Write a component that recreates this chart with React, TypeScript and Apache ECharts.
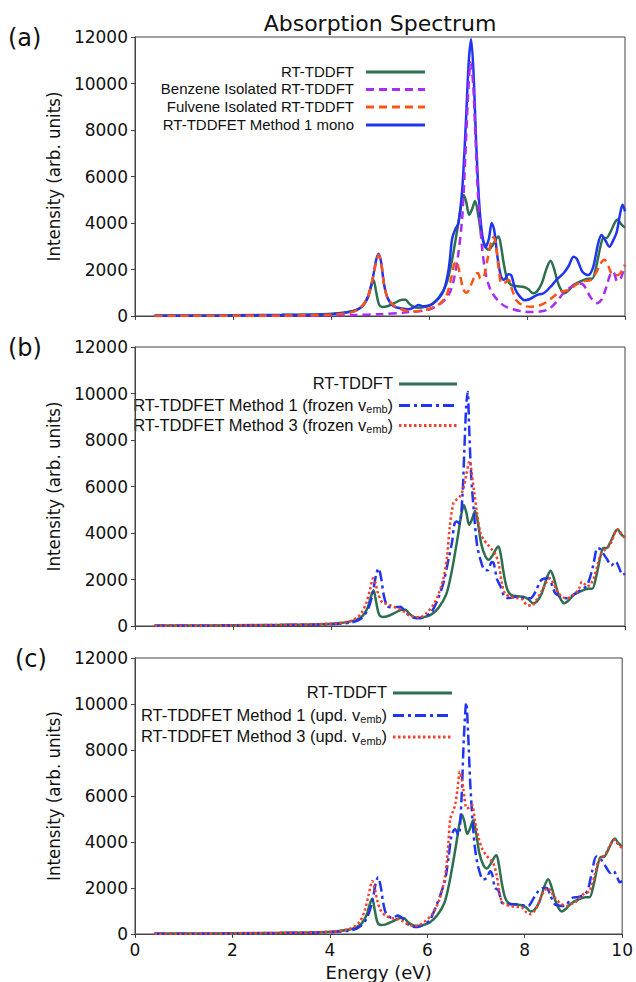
import React, { useEffect, useRef } from "react";
import * as echarts from "echarts";

// ---- data: [energy (eV), intensity (arb. units)] ----
const rtTddft: number[][] = [
  [0.4, 20], [1.0, 20], [2.0, 30], [3.0, 50], [3.8, 80], [4.2, 130], [4.5, 250], [4.65, 450], [4.75, 800],
  [4.82, 1300], [4.87, 1540], [4.92, 1050], [4.98, 500], [5.05, 390], [5.15, 420], [5.3, 560], [5.45, 700],
  [5.52, 700], [5.6, 520], [5.7, 380], [5.78, 350], [5.9, 380], [6.05, 500], [6.2, 800], [6.35, 1350],
  [6.45, 2200], [6.52, 3000], [6.6, 4000], [6.66, 4800], [6.71, 5200], [6.76, 4900], [6.82, 4350], [6.88, 4600],
  [6.94, 4950], [7.0, 4400], [7.07, 3500], [7.15, 3000], [7.22, 2850], [7.3, 3050], [7.38, 3350], [7.42, 3420],
  [7.47, 3000], [7.53, 2200], [7.6, 1560], [7.68, 1330], [7.8, 1280], [7.94, 1250], [8.03, 1150], [8.12, 980],
  [8.2, 1050], [8.3, 1400], [8.4, 2050], [8.48, 2380], [8.55, 2050], [8.62, 1500], [8.7, 1100], [8.76, 980],
  [8.85, 1100], [8.95, 1330], [9.1, 1500], [9.25, 1600], [9.33, 1600], [9.42, 2200], [9.5, 3000], [9.56, 3350],
  [9.62, 3350], [9.7, 3600], [9.8, 4050], [9.85, 4150], [9.92, 3950], [10.0, 3800],
];

const benzeneIsolated: number[][] = [
  [0.4, 5], [3, 10], [4, 20], [4.5, 40], [5, 80], [5.5, 150], [6, 280], [6.25, 560], [6.4, 900], [6.5, 1500],
  [6.6, 2700], [6.68, 4300], [6.74, 6800], [6.8, 9600], [6.85, 10900], [6.9, 10000], [6.95, 7600], [7.0, 5200],
  [7.08, 3000], [7.15, 1900], [7.25, 1150], [7.4, 680], [7.55, 420], [7.7, 300], [7.9, 200], [8.1, 170],
  [8.3, 200], [8.45, 300], [8.6, 600], [8.75, 1000], [8.9, 1250], [9.05, 1400], [9.15, 1350], [9.3, 800],
  [9.43, 550], [9.52, 700], [9.62, 1250], [9.7, 1800], [9.76, 1900], [9.84, 1500], [9.92, 1650], [10.0, 2200],
];

const fulveneIsolated: number[][] = [
  [0.4, 5], [3, 15], [4, 60], [4.4, 150], [4.6, 350], [4.75, 800], [4.85, 1600], [4.92, 2300], [4.97, 2620],
  [5.02, 2350], [5.08, 1400], [5.15, 800], [5.3, 420], [5.5, 250], [5.7, 190], [5.9, 250], [6.05, 350],
  [6.2, 500], [6.35, 850], [6.45, 1600], [6.51, 2200], [6.56, 2350], [6.62, 1900], [6.7, 1150], [6.77, 1000],
  [6.85, 1300], [6.95, 1800], [7.0, 1850], [7.05, 1600], [7.12, 1700], [7.2, 2500], [7.28, 3300], [7.32, 3400],
  [7.37, 3000], [7.43, 1900], [7.48, 1400], [7.56, 1450], [7.63, 1550], [7.7, 1100], [7.8, 620], [7.95, 430],
  [8.1, 400], [8.25, 450], [8.4, 600], [8.55, 850], [8.7, 1050], [8.86, 1120], [9.0, 1350], [9.15, 1500],
  [9.3, 1550], [9.42, 1900], [9.5, 2250], [9.58, 2420], [9.65, 2200], [9.72, 1850], [9.8, 1750], [9.88, 1780],
  [9.95, 2000], [10.0, 2200],
];

const method1Mono: number[][] = [
  [0.4, 10], [2, 20], [3, 40], [4, 80], [4.4, 180], [4.6, 350], [4.75, 800], [4.85, 1600], [4.92, 2400],
  [4.97, 2680], [5.02, 2350], [5.08, 1400], [5.15, 800], [5.28, 420], [5.45, 320], [5.58, 290], [5.7, 380],
  [5.79, 470], [5.88, 420], [6.0, 440], [6.15, 650], [6.3, 1100], [6.4, 2000], [6.47, 3300], [6.53, 3700],
  [6.6, 4000], [6.68, 5500], [6.75, 8200], [6.81, 10900], [6.86, 11900], [6.91, 10400], [6.96, 7600],
  [7.02, 5000], [7.08, 3600], [7.15, 2950], [7.22, 3300], [7.28, 4000], [7.33, 3700], [7.4, 2500], [7.47, 1700],
  [7.53, 1550], [7.62, 1800], [7.68, 1750], [7.76, 1150], [7.86, 820], [7.95, 680], [8.05, 720], [8.2, 900],
  [8.34, 980], [8.5, 1300], [8.6, 1550], [8.75, 1850], [8.85, 2150], [8.95, 2550], [9.02, 2450], [9.13, 1900],
  [9.25, 1760], [9.35, 2100], [9.45, 3100], [9.52, 3480], [9.6, 3250], [9.68, 2980], [9.76, 3250], [9.83, 3600],
  [9.9, 4400], [9.95, 4780], [10.0, 4500],
];

const method1Frozen: number[][] = [
  [0.4, 10], [2, 20], [3, 40], [4, 80], [4.4, 150], [4.6, 300], [4.75, 700], [4.85, 1400], [4.92, 2200],
  [4.97, 2480], [5.02, 2100], [5.08, 1300], [5.15, 850], [5.25, 800], [5.35, 820], [5.42, 830], [5.5, 650],
  [5.6, 450], [5.7, 350], [5.8, 330], [5.95, 450], [6.05, 600], [6.17, 1100], [6.3, 1900], [6.4, 2900],
  [6.47, 3600], [6.52, 4400], [6.57, 4500], [6.62, 4400], [6.68, 5500], [6.72, 7500], [6.76, 9500],
  [6.79, 10080], [6.82, 8500], [6.86, 6500], [6.92, 4800], [6.98, 3500], [7.05, 2850], [7.12, 2450],
  [7.2, 2400], [7.28, 2750], [7.32, 2700], [7.39, 2000], [7.46, 1700], [7.53, 1300], [7.6, 1200], [7.7, 1230],
  [7.8, 1260], [7.95, 1200], [8.07, 1190], [8.18, 1500], [8.28, 1950], [8.4, 2050], [8.45, 2050], [8.52, 1700],
  [8.58, 1400], [8.7, 1250], [8.82, 1190], [8.95, 1350], [9.1, 1550], [9.2, 1700], [9.27, 1980], [9.35, 2600],
  [9.44, 3350], [9.5, 3300], [9.56, 3100], [9.64, 2850], [9.72, 2600], [9.81, 2770], [9.88, 2500], [9.95, 2200],
  [10.0, 2250],
];

const method3Frozen: number[][] = [
  [0.4, 10], [2, 25], [3, 50], [4, 100], [4.4, 220], [4.6, 500], [4.72, 1000], [4.8, 1600], [4.86, 2050],
  [4.9, 1900], [4.96, 1400], [5.05, 1000], [5.14, 950], [5.25, 850], [5.38, 750], [5.5, 600], [5.6, 450],
  [5.7, 400], [5.82, 380], [5.95, 550], [6.1, 950], [6.2, 1400], [6.3, 2100], [6.37, 3000], [6.42, 4200],
  [6.5, 5300], [6.57, 5450], [6.64, 5600], [6.7, 5900], [6.76, 6500], [6.83, 7100], [6.87, 6600], [6.92, 5800],
  [6.98, 4850], [7.05, 4000], [7.12, 3700], [7.2, 3500], [7.28, 3300], [7.35, 3100], [7.42, 2700], [7.49, 1800],
  [7.55, 1400], [7.66, 1260], [7.8, 1200], [7.9, 1150], [8.0, 900], [8.1, 880], [8.2, 1150], [8.3, 1500],
  [8.4, 1900], [8.46, 2050], [8.55, 1800], [8.62, 1480], [8.72, 1250], [8.82, 1190], [8.92, 1300], [8.99, 1400],
  [9.07, 1650], [9.12, 1900], [9.18, 1800], [9.23, 1700], [9.3, 1800], [9.37, 2100], [9.45, 2700], [9.51, 3100],
  [9.6, 3300], [9.66, 3400], [9.74, 3700], [9.81, 4100], [9.86, 4150], [9.93, 3950], [10.0, 3800],
];

const method1Upd: number[][] = [
  [0.4, 10], [2, 20], [3, 40], [4, 80], [4.4, 150], [4.6, 300], [4.75, 650], [4.87, 1400], [4.94, 2200],
  [4.99, 2470], [5.04, 2100], [5.1, 1300], [5.16, 860], [5.28, 700], [5.4, 800], [5.48, 700], [5.58, 450],
  [5.7, 320], [5.8, 300], [5.95, 450], [6.05, 600], [6.17, 1150], [6.3, 1900], [6.37, 2400], [6.44, 3400],
  [6.5, 4300], [6.57, 4550], [6.64, 4300], [6.7, 5800], [6.75, 8500], [6.8, 10060], [6.84, 8600], [6.88, 6600],
  [6.93, 4900], [6.98, 3700], [7.05, 2870], [7.15, 2370], [7.22, 2440], [7.29, 2730], [7.33, 2600], [7.39, 2010],
  [7.46, 1900], [7.53, 1365], [7.6, 1290], [7.72, 1290], [7.84, 1290], [7.95, 1250], [8.07, 1220], [8.18, 1550],
  [8.28, 1860], [8.38, 2000], [8.45, 2000], [8.53, 1650], [8.62, 1290], [8.72, 1230], [8.82, 1220], [8.92, 1450],
  [8.99, 1580], [9.08, 1600], [9.16, 1650], [9.24, 1750], [9.3, 1940], [9.38, 2700], [9.47, 3375], [9.57, 3230],
  [9.68, 2870], [9.76, 2650], [9.82, 2750], [9.9, 2450], [9.95, 2250], [10.0, 2300],
];

const method3Upd: number[][] = [
  [0.4, 10], [2, 25], [3, 50], [4, 100], [4.4, 220], [4.6, 500], [4.72, 1050], [4.8, 1750], [4.87, 2300],
  [4.92, 2000], [4.98, 1400], [5.05, 1000], [5.14, 800], [5.25, 700], [5.38, 650], [5.5, 550], [5.6, 430],
  [5.69, 360], [5.82, 380], [5.95, 550], [6.1, 860], [6.25, 1500], [6.37, 2590], [6.43, 3900], [6.47, 5000],
  [6.52, 5300], [6.57, 5600], [6.62, 6300], [6.67, 7050], [6.71, 6700], [6.74, 6300], [6.81, 5460], [6.87, 5500],
  [6.92, 5600], [6.98, 4885], [7.05, 4200], [7.12, 3735], [7.2, 3450], [7.29, 3230], [7.35, 3100], [7.42, 2600],
  [7.49, 1700], [7.55, 1350], [7.7, 1220], [7.85, 1180], [7.94, 1150], [8.03, 950], [8.11, 862], [8.2, 1000],
  [8.28, 1300], [8.38, 1800], [8.48, 2000], [8.55, 1800], [8.62, 1580], [8.72, 1350], [8.86, 1220], [8.95, 1300],
  [9.03, 1365], [9.12, 1550], [9.2, 1725], [9.27, 1800], [9.33, 1860], [9.44, 2590], [9.5, 3100], [9.57, 3300],
  [9.66, 3500], [9.74, 3800], [9.84, 4095], [9.92, 3900], [10.0, 3735],
];

const xTickValues = [0, 2, 4, 6, 8, 10];
const yTickValues = [0, 2000, 4000, 6000, 8000, 10000, 12000];
const panelLabels = ["(a)", "(b)", "(c)"];

// ---- styling ----
const GREEN = "#2e6f50";
const BLUE = "#1f35f2";
const PURPLE = "#a82cf2";
const ORANGE = "#ff5216";
const RED = "#f5402e";
const AXIS = "#444";
const FONT = "'DejaVu Sans', sans-serif";
const LEG_FONT = "'Liberation Sans', Arial, sans-serif";
const NARROW = "'DejaVu Sans Condensed', 'Liberation Sans Narrow', 'DejaVu Sans', sans-serif";

const GRID_LEFT = 135;
const GRID_W = 490;
const GRID_H = 279;
const GRID_TOPS = [37, 347, 658];

const DASH = [8, 5];
const DASHDOT = [11, 4, 3, 4];
const DOT = [2.5, 2.5];

function legendBlock(
  rows: { label: string; sub?: string; tail?: string; color: string; dash?: number[]; y: number }[],
  textRight: number,
  lineX1: number,
  lineX2: number,
  fontSize: number
) {
  const els: any[] = [];
  rows.forEach((r) => {
    const text = r.sub ? `{n|${r.label}}{s|${r.sub}}{n|${r.tail || ""}}` : `{n|${r.label}}`;
    els.push({
      type: "text",
      x: textRight,
      y: r.y - 1,
      style: {
        text,
        align: "right",
        verticalAlign: "middle",
        fill: "#111",
        rich: {
          n: { fontSize, fontFamily: LEG_FONT, fill: "#111", lineHeight: fontSize + 4, verticalAlign: "middle" },
          s: { fontSize: fontSize * 0.66, fontFamily: LEG_FONT, fill: "#111", lineHeight: fontSize * 0.66, verticalAlign: "bottom" },
        },
      },
    });
    els.push({
      type: "line",
      shape: { x1: lineX1, y1: r.y, x2: lineX2, y2: r.y },
      style: { stroke: r.color, lineWidth: 3, lineDash: r.dash || null },
    });
  });
  return els;
}

export default function App() {
  const ref = useRef<HTMLDivElement>(null);

  useEffect(() => {
    if (!ref.current) return;
    const chart = echarts.init(ref.current, null, { renderer: "svg" });

    const grids = GRID_TOPS.map((top) => ({
      left: GRID_LEFT,
      top,
      width: GRID_W,
      height: GRID_H,
      show: true,
      borderColor: AXIS,
      borderWidth: 1,
      containLabel: false,
    }));

    const xAxes = GRID_TOPS.map((_, i) => ({
      type: "value",
      gridIndex: i,
      min: xTickValues[0],
      max: xTickValues[xTickValues.length - 1],
      interval: 2,
      axisLine: { show: true, onZero: false, lineStyle: { color: AXIS, width: 1 } },
      axisTick: { show: true, length: 4, lineStyle: { color: AXIS } },
      splitLine: { show: false },
      axisLabel: { show: i === 2, fontSize: 17, fontFamily: FONT, color: "#111", margin: 7, formatter: (v: number) => String(v) },
      name: i === 2 ? "Energy (eV)" : "",
      nameLocation: "middle",
      nameGap: 29,
      nameTextStyle: { fontSize: 18, fontFamily: FONT, color: "#111" },
    }));

    const yAxes = GRID_TOPS.map((_, i) => ({
      type: "value",
      gridIndex: i,
      min: yTickValues[0],
      max: yTickValues[yTickValues.length - 1],
      interval: 2000,
      axisLine: { show: true, lineStyle: { color: AXIS, width: 1 } },
      axisTick: { show: true, length: 4, lineStyle: { color: AXIS } },
      splitLine: { show: false },
      axisLabel: { fontSize: 17, fontFamily: FONT, color: "#111", margin: 7, formatter: (v: number) => String(v) },
      name: "Intensity (arb. units)",
      nameLocation: "middle",
      nameRotate: 90,
      nameGap: 66,
      nameTextStyle: { fontSize: 18.5, fontFamily: NARROW, color: "#111" },
    }));

    const line = (name: string, data: number[][], idx: number, color: string, type: any, z: number) => ({
      name,
      type: "line",
      xAxisIndex: idx,
      yAxisIndex: idx,
      data,
      showSymbol: false,
      symbol: "none",
      smooth: 0.3,
      z,
      lineStyle: { color, width: 2.5, type },
      itemStyle: { color },
    });

    const series = [
      line("RT-TDDFT", rtTddft, 0, GREEN, "solid", 2),
      line("RT-TDDFET Method 1 mono", method1Mono, 0, BLUE, "solid", 3),
      line("Benzene Isolated RT-TDDFT", benzeneIsolated, 0, PURPLE, DASH, 4),
      line("Fulvene Isolated RT-TDDFT", fulveneIsolated, 0, ORANGE, DASH, 5),
      line("RT-TDDFT ", rtTddft, 1, GREEN, "solid", 2),
      line("RT-TDDFET Method 1 (frozen v_emb)", method1Frozen, 1, BLUE, DASHDOT, 3),
      line("RT-TDDFET Method 3 (frozen v_emb)", method3Frozen, 1, RED, DOT, 4),
      line("RT-TDDFT  ", rtTddft, 2, GREEN, "solid", 2),
      line("RT-TDDFET Method 1 (upd. v_emb)", method1Upd, 2, BLUE, DASHDOT, 3),
      line("RT-TDDFET Method 3 (upd. v_emb)", method3Upd, 2, RED, DOT, 4),
    ];

    const graphic: any[] = [
      {
        type: "text",
        x: 380,
        y: 23,
        style: { text: "Absorption Spectrum", fontSize: 22, fontFamily: FONT, fill: "#111", align: "center", verticalAlign: "middle" },
      },
      ...panelLabels.map((t, i) => ({
        type: "text",
        x: i === 2 ? 15 : 8,
        y: GRID_TOPS[i] + 1,
        style: { text: t, fontSize: 24, fontFamily: FONT, fill: "#111", align: "left", verticalAlign: "middle" },
      })),
      ...legendBlock(
        [
          { label: "RT-TDDFT", color: GREEN, y: 72 },
          { label: "Benzene Isolated RT-TDDFT", color: PURPLE, dash: DASH, y: 89.5 },
          { label: "Fulvene Isolated RT-TDDFT", color: ORANGE, dash: DASH, y: 107 },
          { label: "RT-TDDFET Method 1 mono", color: BLUE, y: 125 },
        ],
        354,
        366,
        425,
        15
      ),
      ...legendBlock(
        [
          { label: "RT-TDDFT", color: GREEN, y: 384 },
          { label: "RT-TDDFET Method 1 (frozen v", sub: "emb", tail: ")", color: BLUE, dash: DASHDOT, y: 405.5 },
          { label: "RT-TDDFET Method 3 (frozen v", sub: "emb", tail: ")", color: RED, dash: DOT, y: 425.5 },
        ],
        393,
        399,
        457,
        16.5
      ),
      ...legendBlock(
        [
          { label: "RT-TDDFT", color: GREEN, y: 693 },
          { label: "RT-TDDFET Method 1 (upd. v", sub: "emb", tail: ")", color: BLUE, dash: DASHDOT, y: 715.5 },
          { label: "RT-TDDFET Method 3 (upd. v", sub: "emb", tail: ")", color: RED, dash: DOT, y: 737 },
        ],
        387,
        393,
        452,
        16.5
      ),
    ];

    chart.setOption({
      animation: false,
      backgroundColor: "#ffffff",
      grid: grids,
      xAxis: xAxes,
      yAxis: yAxes,
      series,
      graphic,
    });

    return () => chart.dispose();
  }, []);

  return <div ref={ref} style={{ position: "absolute", left: 0, top: 0, width: 636, height: 982 }} />;
}
